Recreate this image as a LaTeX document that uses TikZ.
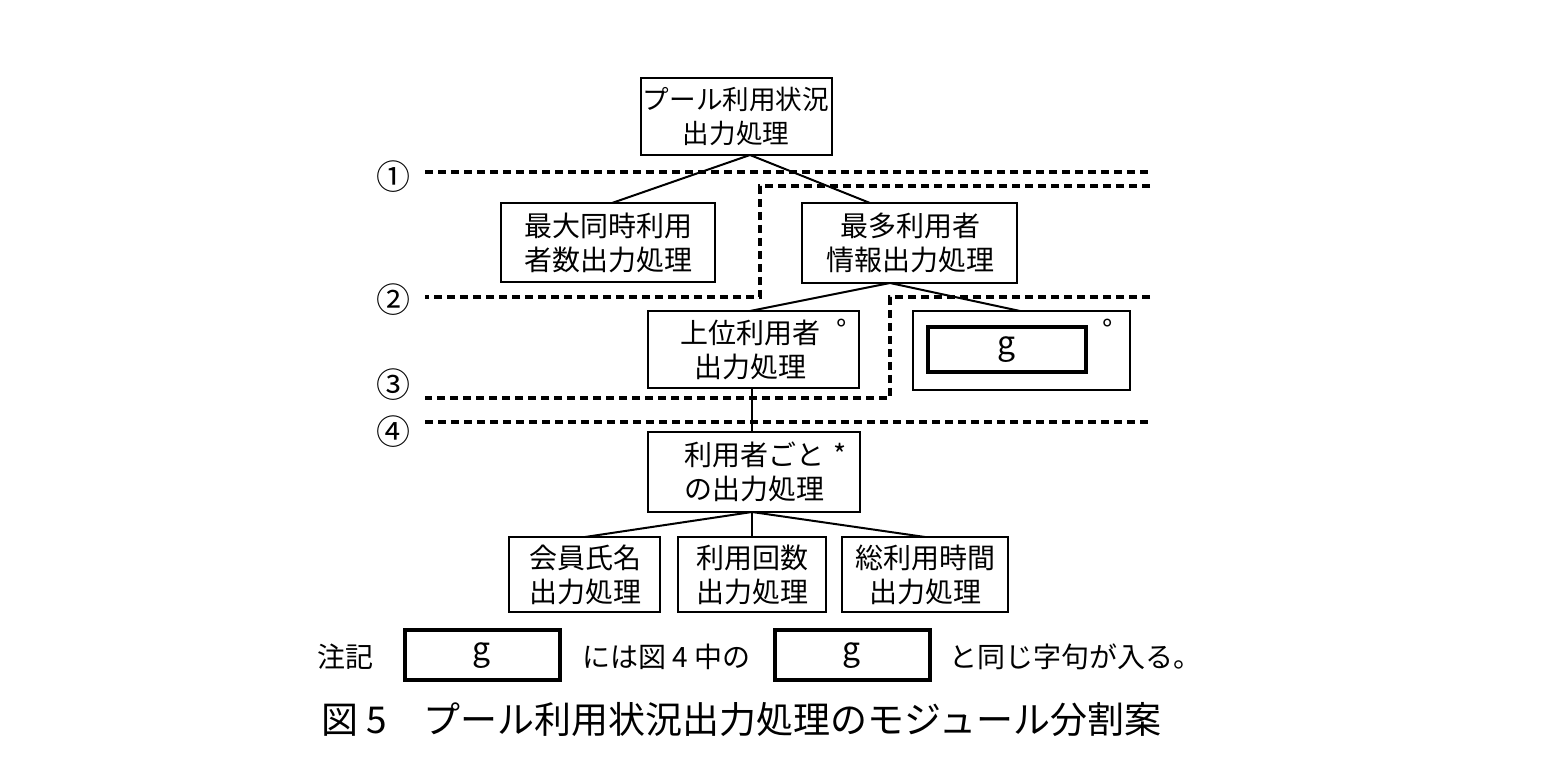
\documentclass[tikz,border=0pt]{standalone}
\usepackage{fontspec}
\newfontfamily\cjk{Noto Sans CJK JP}
\begin{document}
\begin{tikzpicture}[x=0.5pt,y=-0.5pt,
  box/.style={draw,line width=1.2pt,inner sep=0pt},
  dl/.style={line width=2pt,dash pattern=on 4pt off 2.5pt},
  ln/.style={line width=1pt},
  t/.style={font=\cjk\fontsize{14}{17}\selectfont,align=center},
  gg/.style={font=\cjk\fontsize{16}{16}\selectfont},
  lab/.style={font=\cjk\fontsize{17}{17}\selectfont}]
\useasboundingbox (0,0) rectangle (1542,780);
\fill[white] (0,0) rectangle (1542,780);
\draw[box] (641,78) rectangle (832,155); \node[t,font=\cjk\fontsize{13.3}{17}\selectfont] (top) at (736,116) {プール利用状況\\出力処理};
\draw[box] (501,203) rectangle (715,282); \node[t] (a) at (608,243) {最大同時利用\\者数出力処理};
\draw[box] (802,203) rectangle (1017,283); \node[t] (b) at (910,243) {最多利用者\\情報出力処理};
\draw[box] (648,311) rectangle (859,388); \node[t] (c) at (750,350) {上位利用者\\出力処理};
\node[t] at (842,330) {°};
\draw[box] (913,311) rectangle (1130,390);
\draw[line width=2pt] (928,327) rectangle (1086,372); \node[gg] (g) at (1007,350) {g};
\node[t] at (1108,330) {°};
\draw[box] (648,432) rectangle (860,512); \node[t] (d) at (754,472) {利用者ごと\\の出力処理};
\node[t] at (840,454) {*};
\draw[box] (509,537) rectangle (660,612); \node[t] (e1) at (585,575) {会員氏名\\出力処理};
\draw[box] (678,537) rectangle (826,612); \node[t] (e2) at (752,575) {利用回数\\出力処理};
\draw[box] (842,537) rectangle (1008,612); \node[t] (e3) at (925,575) {総利用時間\\出力処理};
\coordinate (tb) at (750,155); \coordinate (bb) at (890,283); \coordinate (db) at (752,512);
\draw[ln] (tb) -- (612,203); \draw[ln] (tb) -- (870,203);
\draw[ln] (bb) -- (750,311); \draw[ln] (bb) -- (1020,311);
\draw[ln] (752,388) -- (752,432);
\draw[ln] (db) -- (585,537); \draw[ln] (db) -- (752,537); \draw[ln] (db) -- (925,537);
\draw[dl] (425,172) -- (1150,172);
\draw[dl] (1150,186) -- (760,186) -- (760,297) -- (425,297);
\draw[dl] (1150,297) -- (890,297) -- (890,398) -- (425,398);
\draw[dl] (425,422) -- (1150,422);
\node[lab] at (393,177) {①};
\node[lab] at (393,300) {②};
\node[lab] at (393,385) {③};
\node[lab] at (393,432) {④};
\node[t] at (345,657) {注記};
\draw[line width=2pt] (405,630) rectangle (560,680); \node[gg] at (482,656) {g};
\node[t,anchor=west] at (575,657) {には図 4 中の};
\draw[line width=2pt] (775,630) rectangle (930,680); \node[gg] at (852,656) {g};
\node[t,anchor=west] at (942,657) {と同じ字句が入る。};
\node[font=\cjk\fontsize{18.5}{18.5}\selectfont,anchor=west] at (314,720) {図 5\quad プール利用状況出力処理のモジュール分割案};
\end{tikzpicture}
\end{document}
